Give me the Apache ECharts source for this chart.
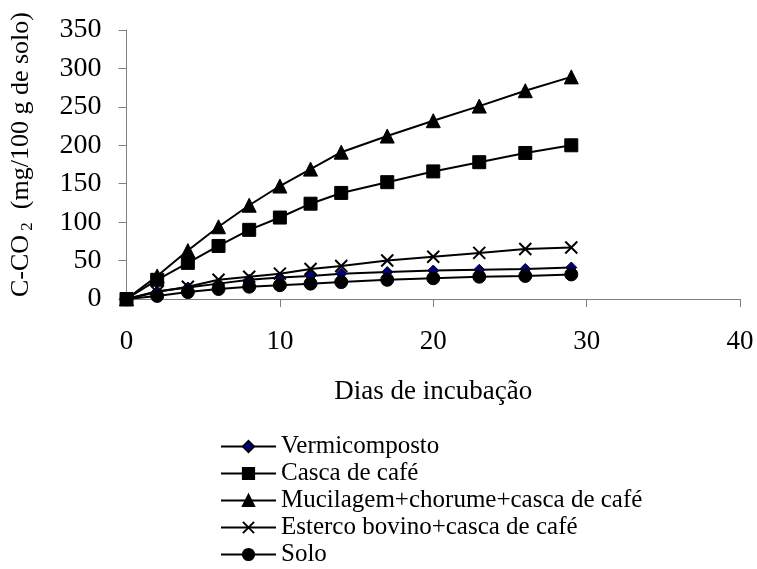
<!DOCTYPE html>
<html>
<head>
<meta charset="utf-8">
<script src="https://cdn.jsdelivr.net/npm/echarts@6/dist/echarts.min.js"></script>
<style>
  html, body { margin: 0; padding: 0; background: #fff; }
  #chart { width: 757px; height: 569px; }
</style>
</head>
<body>
<div id="chart"></div>
<script>
// Incubation days and cumulative C-CO2 release (mg/100 g of soil)
const days = [0, 2, 4, 6, 8, 10, 12, 14, 17, 20, 23, 26, 29];
const vermicomposto = [0, 10, 15, 20, 25, 28, 30, 33, 35, 37, 38, 39, 41];
const cascaCafe = [0, 25, 47, 69, 90, 106, 124, 138, 152, 166, 178, 190, 200];
const mucilagem = [0, 30, 63, 94, 122, 147, 169, 191, 212, 232, 251, 271, 289];
const esterco = [0, 9, 16, 25, 29, 33, 39, 43, 50, 55, 60, 65, 67];
const solo = [0, 4, 9, 13, 16, 18, 20, 22, 25, 27, 29, 30, 32];

const seriesNames = [
  'Vermicomposto',
  'Casca de café',
  'Mucilagem+chorume+casca de café',
  'Esterco bovino+casca de café',
  'Solo'
];

const FONT = "'Liberation Serif', 'Times New Roman', serif";
const CROSS = 'path://M0,0L10,10M10,0L0,10';

function pairs(values) {
  return days.map((d, i) => [d, values[i]]);
}

function makeSeries(name, values, symbol, size, fill, extra) {
  return Object.assign({
    name: name,
    type: 'line',
    data: pairs(values),
    symbol: symbol,
    symbolSize: size,
    showAllSymbol: true,
    color: '#000',
    lineStyle: { color: '#000', width: 2 },
    itemStyle: { color: fill, borderColor: '#000', borderWidth: 1 },
    emphasis: { disabled: true },
    animation: false
  }, extra || {});
}

const chart = echarts.init(document.getElementById('chart'));
chart.setOption({
  backgroundColor: '#fff',
  grid: { left: 125, right: 17, top: 30, bottom: 270 },
  legend: {
    orient: 'vertical',
    left: 220,
    top: 434,
    height: 135,
    padding: 0,
    itemWidth: 55,
    itemHeight: 14,
    itemGap: 2,
    textStyle: { fontFamily: FONT, fontSize: 25, color: '#000', lineHeight: 24 },
    data: seriesNames
  },
  xAxis: {
    type: 'value',
    min: 0,
    max: 40,
    interval: 10,
    name: 'Dias de incubação',
    nameLocation: 'middle',
    nameGap: 79,
    nameTextStyle: { fontFamily: FONT, fontSize: 27, color: '#000' },
    axisLine: { lineStyle: { color: '#808080', width: 1 } },
    axisTick: { show: true, length: 8, lineStyle: { color: '#808080' } },
    axisLabel: { fontFamily: FONT, fontSize: 27, color: '#000', margin: 29 },
    splitLine: { show: false }
  },
  yAxis: {
    type: 'value',
    min: 0,
    max: 350,
    interval: 50,
    name: '{t|C-CO}{s| 2}{t|  (mg/100 g de solo)}',
    nameLocation: 'middle',
    nameRotate: 90,
    nameGap: 90,
    nameTextStyle: {
      color: '#000',
      padding: [0, 0, 0, 20],
      rich: {
        t: { fontFamily: FONT, fontSize: 26, color: '#000' },
        s: { fontFamily: FONT, fontSize: 17, color: '#000', padding: [14, 0, 0, 0] }
      }
    },
    axisLine: { show: true, lineStyle: { color: '#808080', width: 1 } },
    axisTick: { show: true, length: 8, lineStyle: { color: '#808080' } },
    axisLabel: { fontFamily: FONT, fontSize: 28, color: '#000', margin: 25 },
    splitLine: { show: false }
  },
  series: [
    makeSeries(seriesNames[0], vermicomposto, 'diamond', 11, '#000080'),
    makeSeries(seriesNames[1], cascaCafe, 'rect', 13, '#000'),
    makeSeries(seriesNames[2], mucilagem, 'triangle', 14, '#000'),
    makeSeries(seriesNames[3], esterco, CROSS, 12, '#000', {
      itemStyle: { color: '#000', borderColor: '#000', borderWidth: 2 }
    }),
    makeSeries(seriesNames[4], solo, 'circle', 13, '#000')
  ]
});
</script>
</body>
</html>
